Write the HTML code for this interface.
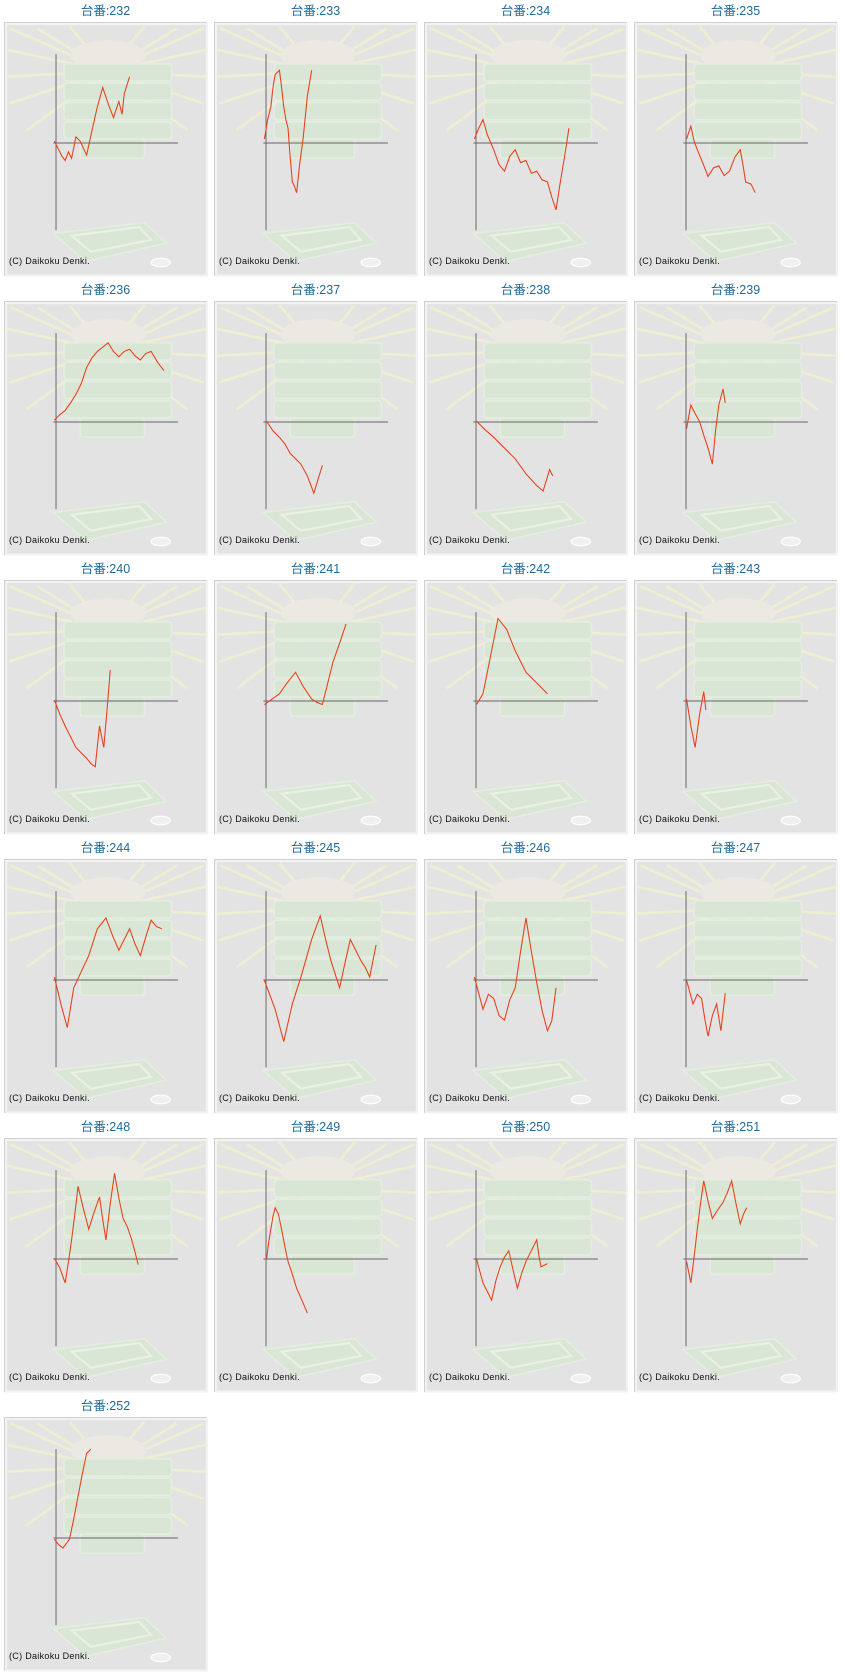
<!DOCTYPE html>
<html><head><meta charset="utf-8"><style>
body{margin:0;width:843px;height:1679px;background:#fff;position:relative;overflow:hidden;font-family:"Liberation Sans","Noto Sans CJK JP",sans-serif}
.t{position:absolute;width:203px;text-align:center;font-size:12.5px;color:#1f6a9a;line-height:14px}
.p{position:absolute;width:201px;height:252px;border:1px solid #d0d0d0;background:#e3e3e3}
.p svg{position:absolute;left:0;top:0}
.c{position:absolute;left:4px;top:233px;font-size:9px;color:#111;letter-spacing:.3px}
</style></head><body>
<svg width="0" height="0" style="position:absolute"><defs>
<g id="bg">
<rect x="1" y="1" width="187" height="234" fill="#e3e3e3" stroke="#f2f2f2" stroke-width="2"/>
<g stroke="#f2f1cf" stroke-width="2.5" opacity=".8">
<line x1="95" y1="45" x2="5" y2="5"/><line x1="95" y1="45" x2="2" y2="25"/><line x1="95" y1="45" x2="2" y2="50"/><line x1="95" y1="45" x2="4" y2="75"/><line x1="95" y1="45" x2="30" y2="5"/><line x1="95" y1="45" x2="60" y2="3"/>
<line x1="95" y1="45" x2="185" y2="5"/><line x1="95" y1="45" x2="187" y2="25"/><line x1="95" y1="45" x2="187" y2="50"/><line x1="95" y1="45" x2="185" y2="75"/><line x1="95" y1="45" x2="160" y2="5"/><line x1="95" y1="45" x2="130" y2="3"/>
<line x1="95" y1="45" x2="20" y2="100"/><line x1="95" y1="45" x2="170" y2="100"/></g>
<ellipse cx="96" cy="30" rx="35" ry="14" fill="#ebe9e2"/>
<g fill="#d9e6d5" stroke="#e4eee0" stroke-width="1.5">
<rect x="55" y="38" width="100" height="16" rx="3"/><rect x="55" y="56" width="100" height="16" rx="3"/><rect x="55" y="74" width="100" height="16" rx="3"/><rect x="55" y="92" width="100" height="16" rx="3"/><rect x="70" y="108" width="60" height="18" rx="3"/>
<path d="M45 196 L130 186 L150 205 L75 222 Z"/></g>
<path d="M62 198 L125 190 L136 202 L80 213 Z" fill="none" stroke="#e8f2e4" stroke-width="2"/>
<ellipse cx="145" cy="223" rx="9" ry="4" fill="#f0f0ee" stroke="#fff"/>
<line x1="47.5" y1="29" x2="47.5" y2="193" stroke="#666" stroke-width=".9"/>
<line x1="45" y1="111.7" x2="161" y2="111.7" stroke="#666" stroke-width=".9"/>
</g></defs></svg>

<div class="t" style="left:4px;top:4px">台番:232</div>
<div class="p" style="left:4px;top:22px"><svg width="203" height="254"><g transform="scale(1.074)"><use href="#bg"/><polyline fill="none" stroke="#e8401a" stroke-width="1" points="46,110 50,118 53,124 56,128 59,120 62,126 66,106 70,110 76,123 81,100 86,78 91,60 96,75 101,88 106,73 109,85 111,66 116,50"/></g></svg><div class="c">(C) Daikoku Denki.</div></div>

<div class="t" style="left:214px;top:4px">台番:233</div>
<div class="p" style="left:214px;top:22px"><svg width="203" height="254"><g transform="scale(1.074)"><use href="#bg"/><polyline fill="none" stroke="#e8401a" stroke-width="1" points="46,108 49,90 52,78 54,60 56,48 60,44 62,60 64,78 66,90 68,98 70,125 72,148 74,152 76,158 79,130 82,108 86,68 90,44"/></g></svg><div class="c">(C) Daikoku Denki.</div></div>

<div class="t" style="left:424px;top:4px">台番:234</div>
<div class="p" style="left:424px;top:22px"><svg width="203" height="254"><g transform="scale(1.074)"><use href="#bg"/><polyline fill="none" stroke="#e8401a" stroke-width="1" points="46,108 50,98 54,90 58,104 64,118 69,132 74,138 79,124 84,118 89,130 94,128 99,140 104,138 109,146 114,148 118,162 122,174 126,148 130,124 134,98"/></g></svg><div class="c">(C) Daikoku Denki.</div></div>

<div class="t" style="left:634px;top:4px">台番:235</div>
<div class="p" style="left:634px;top:22px"><svg width="203" height="254"><g transform="scale(1.074)"><use href="#bg"/><polyline fill="none" stroke="#e8401a" stroke-width="1" points="48,108 52,96 55,110 58,118 63,130 68,143 73,135 78,133 83,142 88,138 93,125 98,118 101,135 103,148 108,150 112,158"/></g></svg><div class="c">(C) Daikoku Denki.</div></div>

<div class="t" style="left:4px;top:283px">台番:236</div>
<div class="p" style="left:4px;top:301px"><svg width="203" height="254"><g transform="scale(1.074)"><use href="#bg"/><polyline fill="none" stroke="#e8401a" stroke-width="1" points="46,110 51,105 56,101 61,94 66,86 71,76 76,61 81,52 86,46 91,42 96,38 101,46 106,51 111,46 116,44 121,50 126,54 131,48 136,46 142,56 148,64"/></g></svg><div class="c">(C) Daikoku Denki.</div></div>

<div class="t" style="left:214px;top:283px">台番:237</div>
<div class="p" style="left:214px;top:301px"><svg width="203" height="254"><g transform="scale(1.074)"><use href="#bg"/><polyline fill="none" stroke="#e8401a" stroke-width="1" points="48,111 54,120 60,126 65,132 70,141 75,146 80,151 86,162 92,178 96,165 100,152"/></g></svg><div class="c">(C) Daikoku Denki.</div></div>

<div class="t" style="left:424px;top:283px">台番:238</div>
<div class="p" style="left:424px;top:301px"><svg width="203" height="254"><g transform="scale(1.074)"><use href="#bg"/><polyline fill="none" stroke="#e8401a" stroke-width="1" points="48,111 56,119 64,126 74,136 84,146 94,160 104,171 110,176 116,156 119,162"/></g></svg><div class="c">(C) Daikoku Denki.</div></div>

<div class="t" style="left:634px;top:283px">台番:239</div>
<div class="p" style="left:634px;top:301px"><svg width="203" height="254"><g transform="scale(1.074)"><use href="#bg"/><polyline fill="none" stroke="#e8401a" stroke-width="1" points="48,118 52,96 56,104 60,111 64,124 68,136 72,151 75,120 78,96 82,81 84,94"/></g></svg><div class="c">(C) Daikoku Denki.</div></div>

<div class="t" style="left:4px;top:562px">台番:240</div>
<div class="p" style="left:4px;top:580px"><svg width="203" height="254"><g transform="scale(1.074)"><use href="#bg"/><polyline fill="none" stroke="#e8401a" stroke-width="1" points="46,111 51,124 56,135 61,145 66,155 71,160 76,165 80,170 84,173 88,135 92,155 95,120 98,83"/></g></svg><div class="c">(C) Daikoku Denki.</div></div>

<div class="t" style="left:214px;top:562px">台番:241</div>
<div class="p" style="left:214px;top:580px"><svg width="203" height="254"><g transform="scale(1.074)"><use href="#bg"/><polyline fill="none" stroke="#e8401a" stroke-width="1" points="46,115 53,110 60,105 67,95 75,85 82,98 90,110 95,113 100,115 105,95 110,75 116,58 122,40"/></g></svg><div class="c">(C) Daikoku Denki.</div></div>

<div class="t" style="left:424px;top:562px">台番:242</div>
<div class="p" style="left:424px;top:580px"><svg width="203" height="254"><g transform="scale(1.074)"><use href="#bg"/><polyline fill="none" stroke="#e8401a" stroke-width="1" points="48,115 54,105 60,75 64,55 68,35 72,40 76,45 80,55 84,65 89,75 94,85 99,90 104,95 109,100 114,105"/></g></svg><div class="c">(C) Daikoku Denki.</div></div>

<div class="t" style="left:634px;top:562px">台番:243</div>
<div class="p" style="left:634px;top:580px"><svg width="203" height="254"><g transform="scale(1.074)"><use href="#bg"/><polyline fill="none" stroke="#e8401a" stroke-width="1" points="48,110 52,135 56,155 60,125 64,103 66,120"/></g></svg><div class="c">(C) Daikoku Denki.</div></div>

<div class="t" style="left:4px;top:841px">台番:244</div>
<div class="p" style="left:4px;top:859px"><svg width="203" height="254"><g transform="scale(1.074)"><use href="#bg"/><polyline fill="none" stroke="#e8401a" stroke-width="1" points="46,109 52,134 58,156 64,119 71,104 78,89 86,64 94,54 100,70 106,84 111,74 116,64 121,78 126,89 131,72 136,56 141,62 146,64"/></g></svg><div class="c">(C) Daikoku Denki.</div></div>

<div class="t" style="left:214px;top:841px">台番:245</div>
<div class="p" style="left:214px;top:859px"><svg width="203" height="254"><g transform="scale(1.074)"><use href="#bg"/><polyline fill="none" stroke="#e8401a" stroke-width="1" points="46,112 56,139 64,169 72,134 80,109 90,74 98,52 103,74 108,94 116,119 121,96 126,74 131,84 136,94 140,100 144,109 150,79"/></g></svg><div class="c">(C) Daikoku Denki.</div></div>

<div class="t" style="left:424px;top:841px">台番:246</div>
<div class="p" style="left:424px;top:859px"><svg width="203" height="254"><g transform="scale(1.074)"><use href="#bg"/><polyline fill="none" stroke="#e8401a" stroke-width="1" points="46,109 54,139 59,125 64,129 69,145 74,149 79,130 84,119 89,85 94,54 99,85 104,114 109,140 114,159 118,150 122,119"/></g></svg><div class="c">(C) Daikoku Denki.</div></div>

<div class="t" style="left:634px;top:841px">台番:247</div>
<div class="p" style="left:634px;top:859px"><svg width="203" height="254"><g transform="scale(1.074)"><use href="#bg"/><polyline fill="none" stroke="#e8401a" stroke-width="1" points="48,112 54,134 58,125 62,129 65,148 68,164 72,145 76,134 80,159 84,124"/></g></svg><div class="c">(C) Daikoku Denki.</div></div>

<div class="t" style="left:4px;top:1120px">台番:248</div>
<div class="p" style="left:4px;top:1138px"><svg width="203" height="254"><g transform="scale(1.074)"><use href="#bg"/><polyline fill="none" stroke="#e8401a" stroke-width="1" points="46,111 51,120 56,134 59,115 62,94 65,70 68,44 73,65 78,84 83,68 88,54 91,75 94,94 98,60 102,32 106,55 110,74 114,82 118,94 121,105 124,117"/></g></svg><div class="c">(C) Daikoku Denki.</div></div>

<div class="t" style="left:214px;top:1120px">台番:249</div>
<div class="p" style="left:214px;top:1138px"><svg width="203" height="254"><g transform="scale(1.074)"><use href="#bg"/><polyline fill="none" stroke="#e8401a" stroke-width="1" points="48,112 50,96 52,84 54,72 56,64 59,70 62,84 65,100 68,114 72,126 76,139 80,148 83,155 86,162"/></g></svg><div class="c">(C) Daikoku Denki.</div></div>

<div class="t" style="left:424px;top:1120px">台番:250</div>
<div class="p" style="left:424px;top:1138px"><svg width="203" height="254"><g transform="scale(1.074)"><use href="#bg"/><polyline fill="none" stroke="#e8401a" stroke-width="1" points="48,112 54,134 58,142 62,150 66,132 70,119 74,110 78,104 82,122 86,139 90,125 94,114 99,104 104,94 106,108 108,119 114,116"/></g></svg><div class="c">(C) Daikoku Denki.</div></div>

<div class="t" style="left:634px;top:1120px">台番:251</div>
<div class="p" style="left:634px;top:1138px"><svg width="203" height="254"><g transform="scale(1.074)"><use href="#bg"/><polyline fill="none" stroke="#e8401a" stroke-width="1" points="48,114 52,134 55,110 58,84 61,60 64,39 68,58 72,74 77,66 82,59 86,50 90,39 94,60 98,79 101,70 104,64"/></g></svg><div class="c">(C) Daikoku Denki.</div></div>

<div class="t" style="left:4px;top:1399px">台番:252</div>
<div class="p" style="left:4px;top:1417px"><svg width="203" height="254"><g transform="scale(1.074)"><use href="#bg"/><polyline fill="none" stroke="#e8401a" stroke-width="1" points="46,113 50,118 54,121 57,117 60,113 64,94 68,73 72,52 76,33 80,29"/></g></svg><div class="c">(C) Daikoku Denki.</div></div>
</body></html>
